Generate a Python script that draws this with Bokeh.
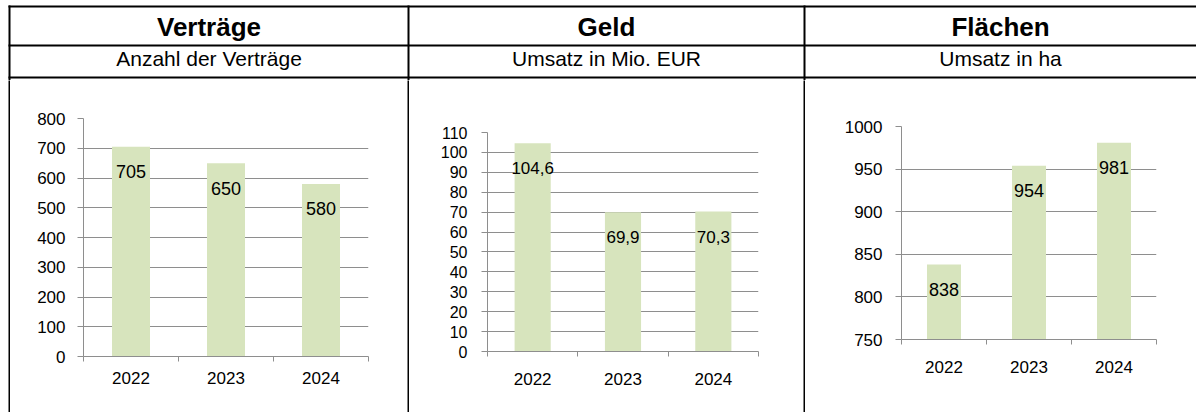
from bokeh.plotting import figure
from bokeh.layouts import row, column
from bokeh.models import Range1d, FixedTicker, SingleIntervalTicker, LabelSet, ColumnDataSource, Spacer
from bokeh.core.properties import value
from bokeh.embed import file_html
from bokeh.resources import INLINE

# ---------------- data ----------------
years = ["2022", "2023", "2024"]
vertraege = [705, 650, 580]
geld = [104.6, 69.9, 70.3]
flaechen = [838, 954, 981]
titles = ["Verträge", "Geld", "Flächen"]
subtitles = ["Anzahl der Verträge", "Umsatz in Mio. EUR", "Umsatz in ha"]

# ---------------- style ----------------
FONT = "Liberation Sans"
GRAY = "#8e8e8e"
BAR = "#d7e4bd"
W, H_HEAD, H_CHART = 1196, 80, 332

# ---------------- header (table rows) ----------------
head = figure(width=W, height=H_HEAD, x_range=Range1d(0, W),
              y_range=Range1d(H_HEAD, 0), min_border=0,
              x_axis_type=None, y_axis_type=None, toolbar_location=None,
              output_backend="svg", outline_line_color=None)
head.background_fill_color = "white"
head.border_fill_color = "white"

hy = [6, 45, 77]
head.segment(x0=[8] * 3, y0=hy, x1=[W] * 3, y1=hy, line_color="black", line_width=2)
vx = [9, 408, 804]
head.segment(x0=vx, y0=[5] * 3, x1=vx, y1=[H_HEAD] * 3, line_color="black", line_width=2)

centers = [208.5, 606, 1000]
head.text(x=centers, y=[26] * 3, text=titles, text_font=value(FONT), text_font_style="bold",
          text_font_size="26px", text_align="center", text_baseline="alphabetic", text_color="black")
head.text(x=centers, y=[57.5] * 3, text=subtitles, text_font=value(FONT),
          text_font_size="21px", text_align="center", text_baseline="alphabetic", text_color="black")


def vline():
    f = figure(width=2, height=H_CHART, min_border=0, x_axis_type=None, y_axis_type=None,
               toolbar_location=None, output_backend="svg", outline_line_color=None)
    f.background_fill_color = "black"
    f.border_fill_color = "black"
    return f


def make_chart(vals, labels, width, left, right, top, bottom, ymin, ymax, step,
               tick_fs, lab_fs, val_fs, ystand, xstand):
    xs = [i + 0.5 for i in range(len(years))]
    p = figure(width=width, height=H_CHART, x_range=Range1d(0, len(years)),
               y_range=Range1d(ymin, ymax), min_border_left=left, min_border_right=right,
               min_border_top=top, min_border_bottom=bottom, toolbar_location=None,
               output_backend="svg", outline_line_color=None)
    p.background_fill_color = "white"
    p.border_fill_color = "white"
    src = ColumnDataSource(dict(x=xs, top=vals, label=labels))
    p.vbar(x="x", top="top", bottom=ymin, width=0.4, source=src, fill_color=BAR, line_color=None)
    p.add_layout(LabelSet(x="x", y="top", text="label", source=src, y_offset=-25,
                          text_align="center", text_baseline="middle",
                          text_font=value(FONT), text_font_size=val_fs, text_color="black"))
    # x axis
    p.xaxis.ticker = FixedTicker(ticks=xs, minor_ticks=list(range(len(years) + 1)))
    p.xaxis.major_label_overrides = {x: y for x, y in zip(xs, years)}
    p.xaxis.major_tick_line_color = None
    p.xaxis.major_tick_out = 0
    p.xaxis.major_tick_in = 0
    p.xaxis.minor_tick_in = 0
    p.xaxis.minor_tick_out = 5
    p.xaxis.minor_tick_line_color = GRAY
    p.xaxis.axis_line_color = GRAY
    p.xaxis.major_label_text_font = FONT
    p.xaxis.major_label_text_font_size = lab_fs
    p.xaxis.major_label_text_color = "black"
    p.xaxis.major_label_standoff = xstand
    p.xgrid.visible = False
    # y axis
    yt = SingleIntervalTicker(interval=step, num_minor_ticks=0)
    p.yaxis.ticker = yt
    p.ygrid.ticker = yt
    p.ygrid.grid_line_color = GRAY
    p.yaxis.axis_line_color = GRAY
    p.yaxis.major_tick_line_color = GRAY
    p.yaxis.major_tick_out = 6
    p.yaxis.major_tick_in = 0
    p.yaxis.minor_tick_line_color = None
    p.yaxis.major_label_text_font = FONT
    p.yaxis.major_label_text_font_size = tick_fs
    p.yaxis.major_label_text_color = "black"
    p.yaxis.major_label_standoff = ystand
    return p


c1 = make_chart(vertraege, [str(v) for v in vertraege], 397, 73, 39, 38, 56,
                0, 800, 100, "17px", "17px", "18px", 12, 10)
c2 = make_chart(geld, [f"{v:.1f}".replace(".", ",") for v in geld], 394, 78, 45, 52, 61,
                0, 110, 10, "16px", "17px", "17px", 14, 16)
c3 = make_chart(flaechen, [str(v) for v in flaechen], 391, 96, 40, 46, 73,
                750, 1000, 50, "17px", "17px", "18px", 13, 16)

charts = row(Spacer(width=8, height=H_CHART), vline(), column(c1), vline(), column(c2),
             vline(), column(c3), spacing=0)
layout = column(head, charts, spacing=0)

open("out.html", "w").write(file_html(layout, INLINE))
